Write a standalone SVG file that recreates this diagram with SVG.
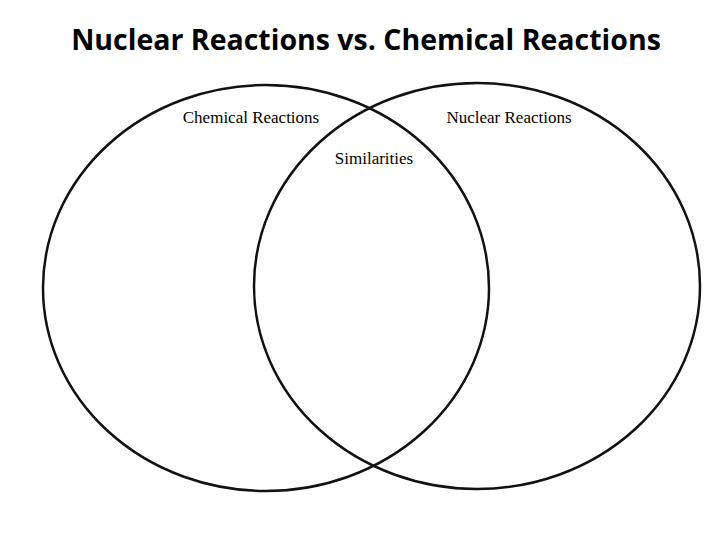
<svg xmlns="http://www.w3.org/2000/svg" width="720" height="540" viewBox="0 0 720 540">
<style>
.c{fill:none;stroke:#111;stroke-width:2.5}
.l{font-family:"Liberation Serif",serif;font-size:17px;fill:#000}
.t{font-family:"Open Sans","Liberation Sans",sans-serif;font-weight:bold;font-size:28.5px;fill:#000}
</style>
<rect width="720" height="540" fill="#fff"/>
<text class="t" x="366" y="50" text-anchor="middle">Nuclear Reactions vs. Chemical Reactions</text>
<g id="chemical"><ellipse class="c" cx="266" cy="288" rx="223" ry="203"/><text class="l" x="251" y="123" text-anchor="middle">Chemical Reactions</text></g>
<g id="nuclear"><ellipse class="c" cx="477" cy="286" rx="223" ry="203"/><text class="l" x="509" y="123" text-anchor="middle">Nuclear Reactions</text></g>
<g id="similarities"><text class="l" x="374" y="164" text-anchor="middle">Similarities</text></g>
<g id="connectors"/>
</svg>
